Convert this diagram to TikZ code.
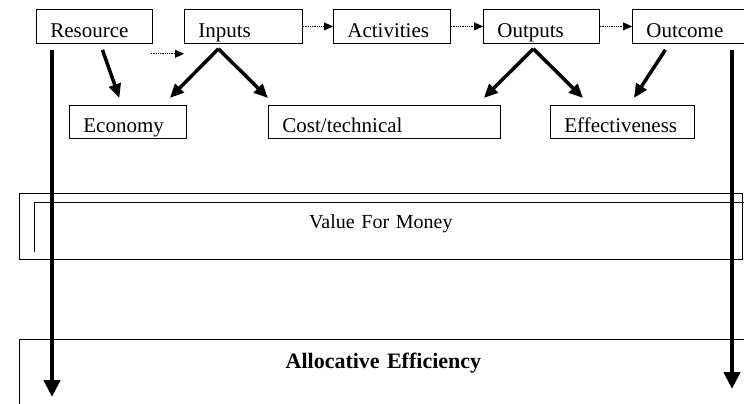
\documentclass[tikz,border=0pt]{standalone}
\usepackage{fontspec}
\setmainfont{Liberation Serif}
\usetikzlibrary{arrows.meta}

\begin{document}
\begin{tikzpicture}[x=1pt,y=-1pt,
   box/.style={draw,line width=0.8pt,anchor=north west,inner xsep=14pt,inner ysep=0pt,
      align=left,font=\fontsize{21}{24}\selectfont},
   topbox/.style={box,text height=28pt,text depth=6pt},
   lowbox/.style={box,text height=27pt,text depth=6pt},
   bigarrow/.style={line width=3.5pt,-{Triangle[length=14pt,width=12pt]}},
   longarrow/.style={line width=4.5pt,-{Triangle[length=17pt,width=16pt]}},
   dotarrow/.style={densely dotted,line width=0.8pt,-{Triangle[length=9pt,width=8pt]}}]
\useasboundingbox (0,0) rectangle (744,404);
\clip (0,0) rectangle (744,404);
% chain along the top
\node[topbox,text width=88pt] (res) at (36,9) {Resource};
\node[topbox,text width=90pt] (inp) at (184,9) {Inputs};
\node[topbox,text width=89pt] (act) at (333,9) {Activities};
\node[topbox,text width=88pt] (outp) at (483,9) {Outputs};
\node[topbox,text width=90pt] (outc) at (632,9) {Outcome};
% the three E's
\node[lowbox,text width=89pt] (eco) at (69,105) {Economy};
\node[lowbox,text width=204pt] (cost) at (268,105) {Cost/technical};
\node[lowbox,text width=116pt] (eff) at (550,105) {Effectiveness};
% bands
\node[box,align=center,text width=695pt,text height=35pt,text depth=31pt,
   font=\fontsize{20}{24}\selectfont] (vfm) at (19,193) {Value For Money};
\draw[line width=0.8pt] ([shift={(15,59)}]vfm.north west) |- ([shift={(8,9)}]vfm.north east);
\node[box,align=center,text width=700pt,text height=29pt,text depth=60pt,
   font=\fontsize{22}{26}\selectfont\bfseries] (alloc) at (19,339) {Allocative Efficiency};
% dotted links
\draw[dotarrow] (inp.east) -- (act.west);
\draw[dotarrow] (act.east) -- (outp.west);
\draw[dotarrow] (outp.east) -- (outc.west);
\draw[dotarrow] ([shift={(-2,10)}]res.south east) -- ([shift={(0,10)}]inp.south west);
% thick arrows
\draw[bigarrow] ([shift={(8,6)}]res.south) -- ([shift={(-8.5,-7)}]eco.north);
\draw[bigarrow] ([shift={(-25,5)}]inp.south) -- ([shift={(-17,-7)}]eco.north east);
\draw[bigarrow] ([shift={(-25,5)}]inp.south) -- ([shift={(0,-7)}]cost.north west);
\draw[bigarrow] ([shift={(-8,5)}]outp.south) -- ([shift={(-17,-7)}]cost.north east);
\draw[bigarrow] ([shift={(-8,5)}]outp.south) -- ([shift={(33,-7)}]eff.north west);
\draw[bigarrow] ([shift={(-26,6)}]outc.south) -- ([shift={(11.5,-7)}]eff.north);
% long verticals
\coordinate (lbot) at (52,397);
\coordinate (rbot) at (732,389);
\draw[longarrow] ([shift={(16,6)}]res.south west) -- (lbot);
\draw[longarrow] ([shift={(100,6)}]outc.south west) -- (rbot);
\end{tikzpicture}
\end{document}
